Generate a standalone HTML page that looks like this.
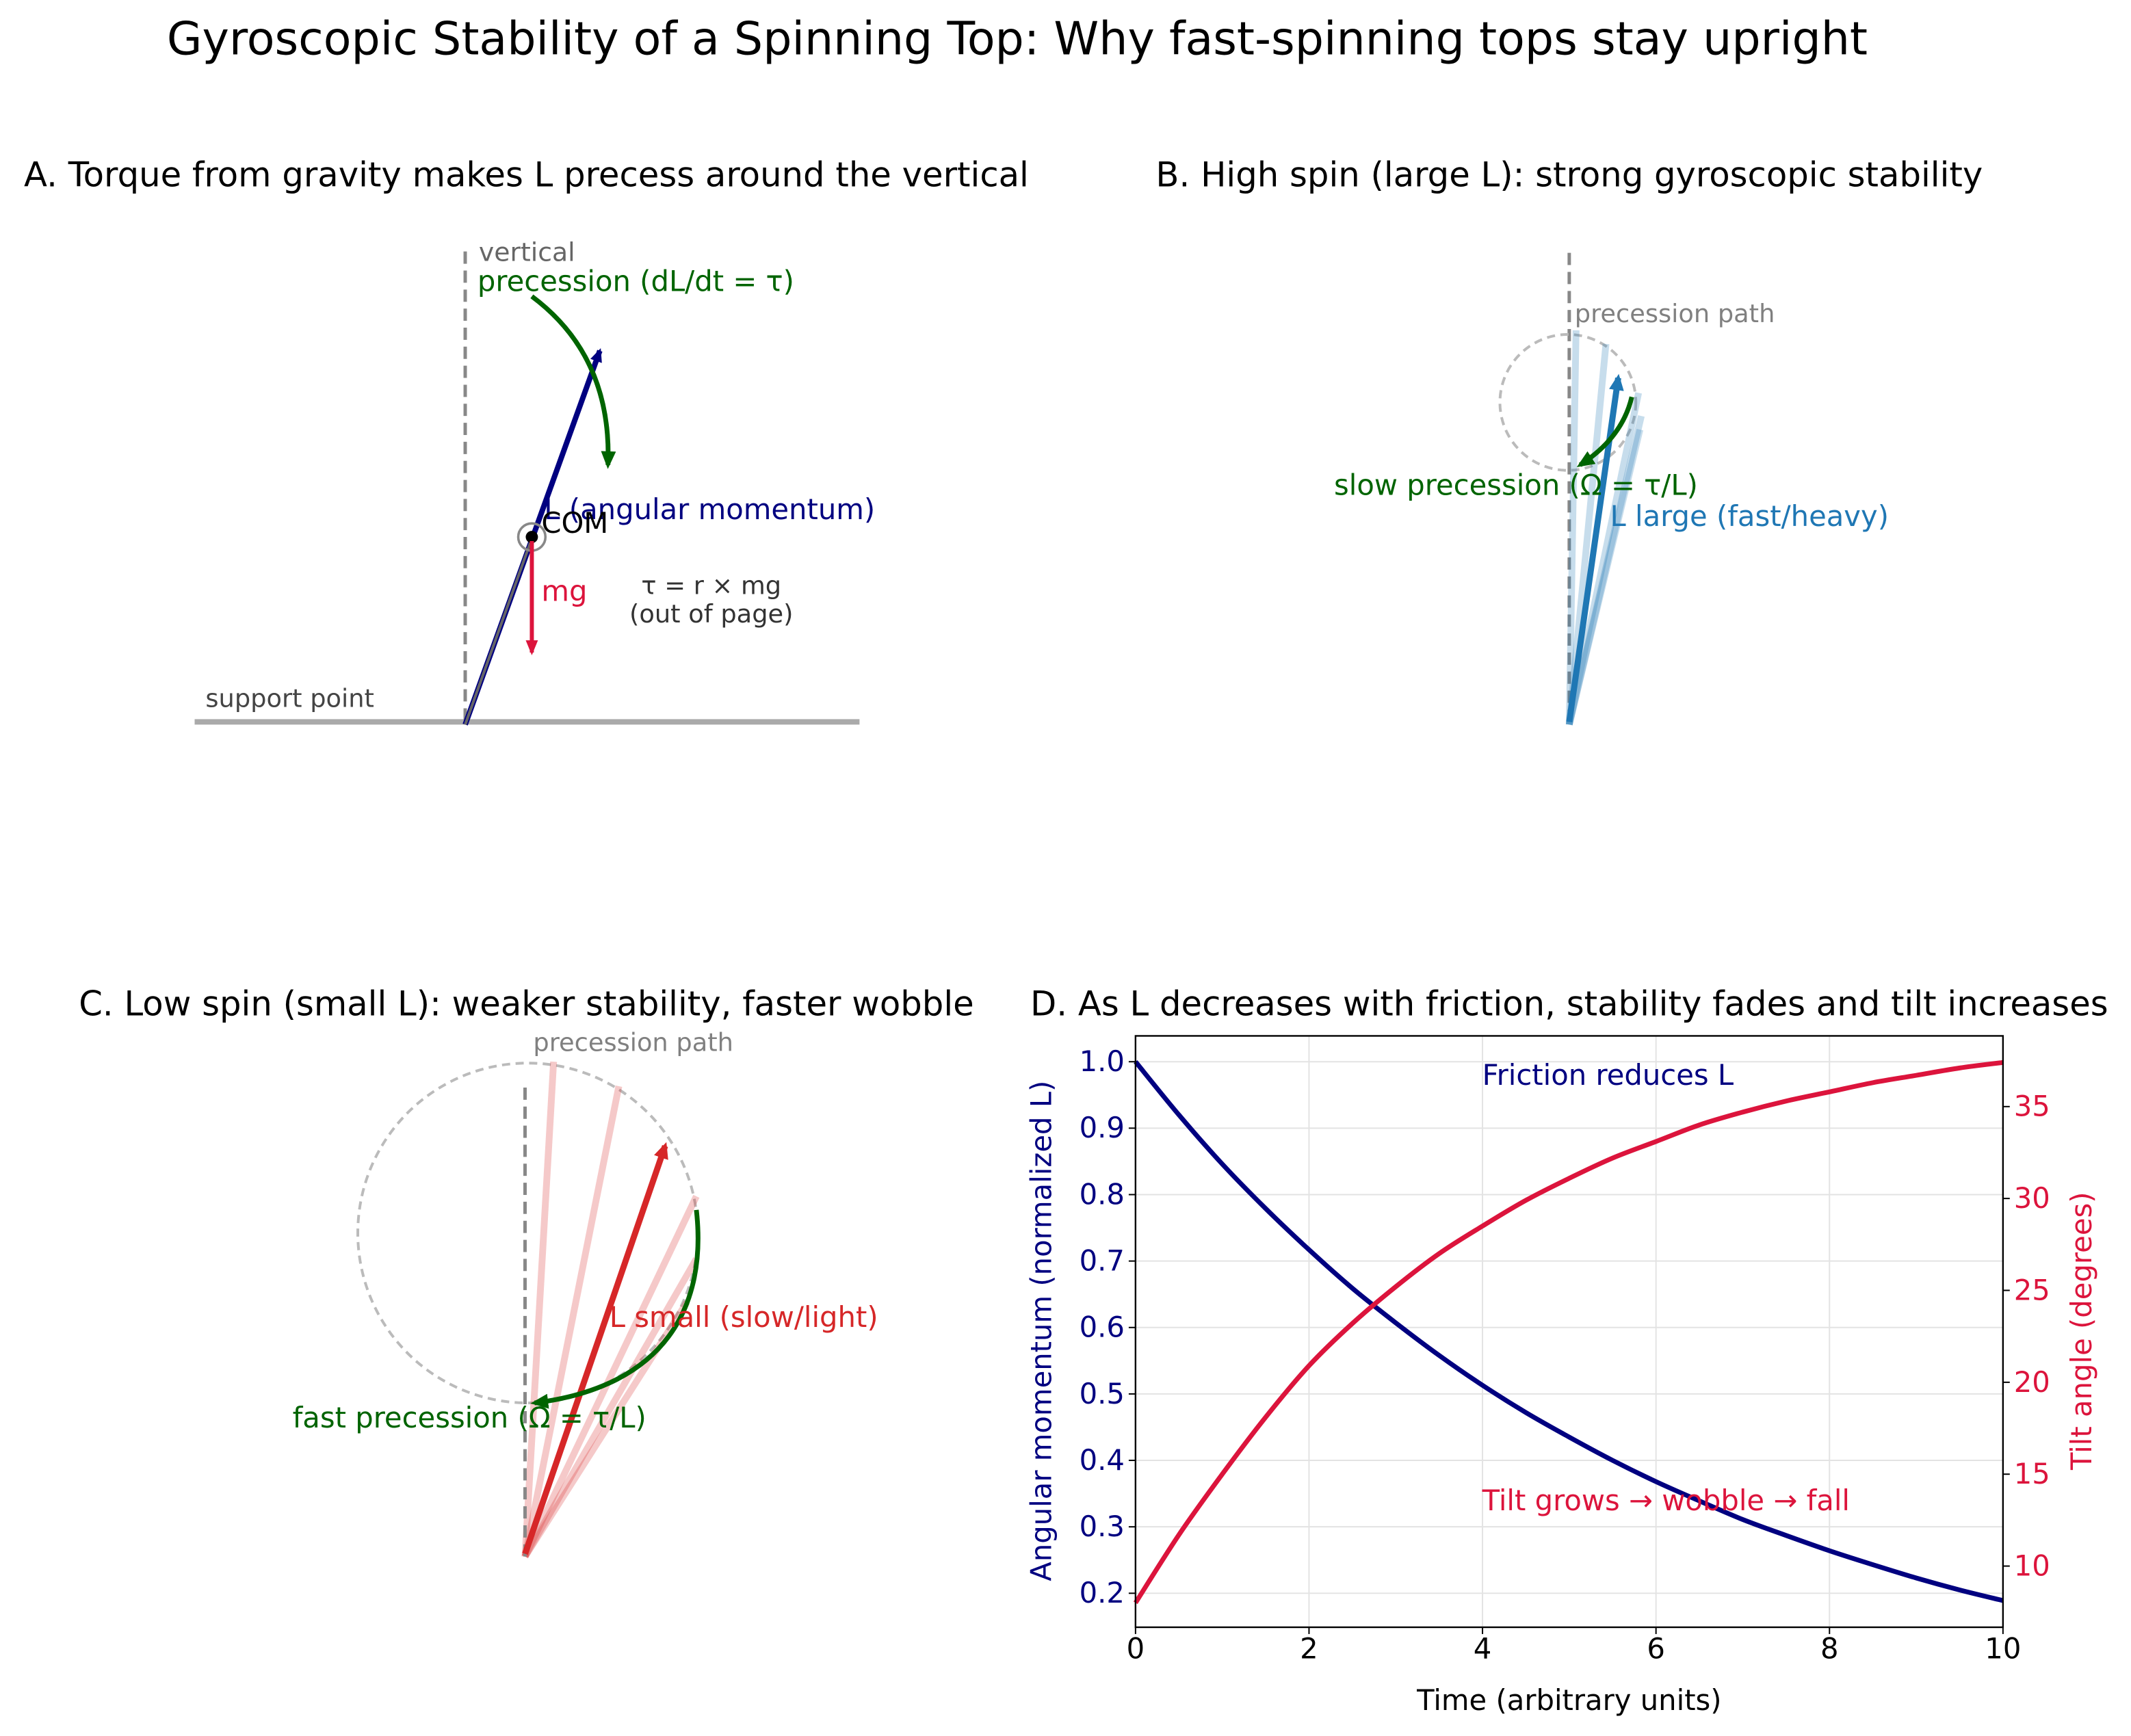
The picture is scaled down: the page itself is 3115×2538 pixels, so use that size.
<!DOCTYPE html>
<html><head><meta charset="utf-8">
<style>
html,body{margin:0;padding:0;background:#fff;}
svg{display:block;font-family:"DejaVu Sans","Liberation Sans",sans-serif;}
</style></head>
<body>
<svg id="fig" width="3115" height="2538" viewBox="0 0 1567 1277" xmlns="http://www.w3.org/2000/svg">
<defs>
<marker id="ahNavy" markerWidth="10" markerHeight="9" refX="8" refY="4.5" orient="auto" markerUnits="userSpaceOnUse"><path d="M0,0 L10,4.5 L0,9 z" fill="#000080"/></marker>
<marker id="ahRed" markerWidth="11" markerHeight="9" refX="9" refY="4.5" orient="auto" markerUnits="userSpaceOnUse"><path d="M0,0 L11,4.5 L0,9 z" fill="#dc143c"/></marker>
<marker id="ahGreen" markerWidth="13" markerHeight="11" refX="10" refY="5.5" orient="auto" markerUnits="userSpaceOnUse"><path d="M0,0 L13,5.5 L0,11 z" fill="#006400"/></marker>
<marker id="ahBlue" markerWidth="12" markerHeight="11" refX="9" refY="5.5" orient="auto" markerUnits="userSpaceOnUse"><path d="M0,0 L12,5.5 L0,11 z" fill="#1f77b4"/></marker>
<marker id="ahR2" markerWidth="12" markerHeight="11" refX="9" refY="5.5" orient="auto" markerUnits="userSpaceOnUse"><path d="M0,0 L12,5.5 L0,11 z" fill="#d62728"/></marker>
</defs>
<rect width="1567" height="1277" fill="#fff"/>
<text x="748" y="40" font-size="33.5" text-anchor="middle" fill="#000">Gyroscopic Stability of a Spinning Top: Why fast-spinning tops stay upright</text>

<!-- Panel A -->
<g>
<text x="387" y="137" font-size="25" text-anchor="middle">A. Torque from gravity makes L precess around the vertical</text>
<line x1="143" y1="531" x2="632" y2="531" stroke="#aaaaaa" stroke-width="4"/>
<line x1="342" y1="185" x2="342" y2="531" stroke="#888" stroke-width="2.5" stroke-dasharray="9,5"/>
<line x1="342" y1="533" x2="441" y2="258" stroke="#000080" stroke-width="4" marker-end="url(#ahNavy)"/>
<line x1="342" y1="533" x2="391" y2="396" stroke="#666" stroke-width="2"/>
<circle cx="391" cy="395" r="10" fill="none" stroke="#888" stroke-width="1.8"/>
<circle cx="391" cy="395" r="4.5" fill="#000"/>
<line x1="391" y1="398" x2="391" y2="480" stroke="#dc143c" stroke-width="3" marker-end="url(#ahRed)"/>
<path d="M391,218 Q450,262 447,342" fill="none" stroke="#006400" stroke-width="3.5" marker-end="url(#ahGreen)"/>
<text x="352" y="192" font-size="19" fill="#666">vertical</text>
<text x="351" y="214" font-size="21" fill="#006400">precession (dL/dt = τ)</text>
<text x="400" y="382" font-size="21" fill="#000080">L (angular momentum)</text>
<text x="398" y="392" font-size="21" fill="#000">COM</text>
<text x="398" y="442" font-size="21" fill="#dc143c">mg</text>
<text x="523" y="437" font-size="18.5" fill="#333" text-anchor="middle">τ = r × mg</text>
<text x="523" y="458" font-size="18.5" fill="#333" text-anchor="middle">(out of page)</text>
<text x="151" y="520" font-size="18.5" fill="#444">support point</text>
</g>

<!-- Panel B -->
<g>
<text x="1154" y="137" font-size="25" text-anchor="middle">B. High spin (large L): strong gyroscopic stability</text>
<line x1="1154" y1="186" x2="1154" y2="532" stroke="#888" stroke-width="2.5" stroke-dasharray="9,5"/>
<circle cx="1153" cy="296" r="50" fill="none" stroke="#bbb" stroke-width="2" stroke-dasharray="6,4"/>
<g stroke="#1f77b4" stroke-opacity="0.25" stroke-width="5">
<line x1="1154" y1="533" x2="1159" y2="243"/>
<line x1="1154" y1="533" x2="1181" y2="253"/>
<line x1="1154" y1="533" x2="1205" y2="289"/>
<line x1="1154" y1="533" x2="1207" y2="306"/>
<line x1="1154" y1="533" x2="1206" y2="316"/>
</g>
<line x1="1154" y1="531" x2="1190" y2="278" stroke="#1f77b4" stroke-width="4.5" marker-end="url(#ahBlue)"/>
<path d="M1200,292 Q1193,322 1162,342" fill="none" stroke="#006400" stroke-width="3.5" marker-end="url(#ahGreen)"/>
<text x="1158" y="237" font-size="18.5" fill="#808080">precession path</text>
<text x="981" y="364" font-size="21" fill="#006400">slow precession (Ω = τ/L)</text>
<text x="1184" y="387" font-size="21" fill="#1f77b4">L large (fast/heavy)</text>
</g>

<!-- Panel C -->
<g>
<text x="387" y="747" font-size="25" text-anchor="middle">C. Low spin (small L): weaker stability, faster wobble</text>
<circle cx="388" cy="907" r="125" fill="none" stroke="#bbb" stroke-width="2" stroke-dasharray="6,4"/>
<g stroke="#d62728" stroke-opacity="0.25" stroke-width="5">
<line x1="386" y1="1145" x2="407" y2="781"/>
<line x1="386" y1="1145" x2="455" y2="799"/>
<line x1="386" y1="1145" x2="512" y2="880"/>
<line x1="386" y1="1145" x2="512" y2="926"/>
<line x1="386" y1="1145" x2="505" y2="958"/>
</g>
<line x1="386" y1="800" x2="386" y2="1145" stroke="#888" stroke-width="2.5" stroke-dasharray="9,5"/>
<line x1="386" y1="1143" x2="489" y2="843" stroke="#d62728" stroke-width="4.5" marker-end="url(#ahR2)"/>
<path d="M512,890 C520,960 490,1020 393,1032" fill="none" stroke="#006400" stroke-width="3.5" marker-end="url(#ahGreen)"/>
<text x="392" y="773" font-size="18.5" fill="#808080">precession path</text>
<text x="448" y="976" font-size="21" fill="#d62728">L small (slow/light)</text>
<text x="215" y="1050" font-size="21" fill="#006400">fast precession (Ω = τ/L)</text>
</g>

<!-- Panel D -->
<g id="panelD">
<text x="1154" y="747" font-size="25" text-anchor="middle">D. As L decreases with friction, stability fades and tilt increases</text>
</g>
</svg>
<script>
const times = [0,0.5,1,1.5,2,2.5,3,3.5,4,4.5,5,5.5,6,6.5,7,7.5,8,8.5,9,9.5,10];
const angularMomentum = [1,0.920,0.846,0.779,0.717,0.659,0.607,0.558,0.513,0.472,0.435,0.400,0.368,0.339,0.311,0.287,0.264,0.243,0.223,0.205,0.189];
const tiltAngle = [8,11.7,15.0,18.1,20.9,23.2,25.2,27.0,28.5,29.9,31.1,32.2,33.1,34.0,34.7,35.3,35.8,36.3,36.7,37.1,37.4];
const xTicks = [0,2,4,6,8,10];
const leftTicks = [0.2,0.3,0.4,0.5,0.6,0.7,0.8,0.9,1.0];
const rightTicks = [10,15,20,25,30,35];

const NS = "http://www.w3.org/2000/svg";
const g = document.getElementById('panelD');
const L = 835, R = 1473, T = 762, B = 1197;
const xS = v => L + (v - 0) / 10 * (R - L);
const yL = v => 1172 - (v - 0.2) / 0.8 * (1172 - 781);
const yR = v => 1152 - (v - 10) / 25 * (1152 - 814);
function mk(tag, attrs, parent) {
  const e = document.createElementNS(NS, tag);
  for (const k in attrs) e.setAttribute(k, attrs[k]);
  (parent || g).appendChild(e);
  return e;
}
xTicks.forEach(t => {
  const e = mk('line', {x1: xS(t), x2: xS(t), y1: T, y2: B, stroke: '#e3e3e3', 'stroke-width': 1});
  
  
});
leftTicks.forEach(t => {
  const e = mk('line', {x1: L, x2: R, y1: yL(t), y2: yL(t), stroke: '#e3e3e3', 'stroke-width': 1});
  
  
});
function path(vals, ys) {
  const p = vals.map((v, i) => [xS(times[i]), ys(v)]);
  let d = 'M' + p[0][0].toFixed(2) + ',' + p[0][1].toFixed(2);
  for (let i = 0; i < p.length - 1; i++) {
    const p0 = p[Math.max(0, i - 1)], p1 = p[i], p2 = p[i + 1], p3 = p[Math.min(p.length - 1, i + 2)];
    const c1 = [p1[0] + (p2[0] - p0[0]) / 6, p1[1] + (p2[1] - p0[1]) / 6];
    const c2 = [p2[0] - (p3[0] - p1[0]) / 6, p2[1] - (p3[1] - p1[1]) / 6];
    d += ' C' + c1[0].toFixed(2) + ',' + c1[1].toFixed(2) + ' ' + c2[0].toFixed(2) + ',' + c2[1].toFixed(2) + ' ' + p2[0].toFixed(2) + ',' + p2[1].toFixed(2);
  }
  return d;
}
const lLine = mk('path', {d: path(angularMomentum, yL), fill: 'none', stroke: '#000080', 'stroke-width': 3.5, 'stroke-linejoin': 'round'});


const tLine = mk('path', {d: path(tiltAngle, yR), fill: 'none', stroke: '#dc143c', 'stroke-width': 3.5, 'stroke-linejoin': 'round'});


const fr = mk('rect', {x: L, y: T, width: R - L, height: B - T, fill: 'none', stroke: '#000', 'stroke-width': 1.2});


xTicks.forEach(t => {
  const tk = mk('line', {x1: xS(t), x2: xS(t), y1: B, y2: B + 5, stroke: '#000', 'stroke-width': 1});
  
  
  const tx = mk('text', {x: xS(t), y: B + 23, 'font-size': 21, 'text-anchor': 'middle', fill: '#000'});
  tx.textContent = String(t);
  
  
});
leftTicks.forEach(t => {
  const tk = mk('line', {x1: L - 5, x2: L, y1: yL(t), y2: yL(t), stroke: '#000', 'stroke-width': 1});
  
  
  const tx = mk('text', {x: L - 8, y: yL(t) + 7, 'font-size': 21, 'text-anchor': 'end', fill: '#000080'});
  tx.textContent = t.toFixed(1);
  
  
});
rightTicks.forEach(t => {
  const tk = mk('line', {x1: R, x2: R + 5, y1: yR(t), y2: yR(t), stroke: '#000', 'stroke-width': 1});
  
  
  const tx = mk('text', {x: R + 8, y: yR(t) + 7, 'font-size': 21, 'text-anchor': 'start', fill: '#dc143c'});
  tx.textContent = String(t);
  
  
});
const xl = mk('text', {x: 1154, y: 1258, 'font-size': 21, 'text-anchor': 'middle', fill: '#000'});
xl.textContent = 'Time (arbitrary units)';


const yl = mk('text', {x: 0, y: 0, 'font-size': 21, 'text-anchor': 'middle', fill: '#000080', transform: 'translate(773,979) rotate(-90)'});
yl.textContent = 'Angular momentum (normalized L)';


const yr = mk('text', {x: 0, y: 0, 'font-size': 21, 'text-anchor': 'middle', fill: '#dc143c', transform: 'translate(1538,979) rotate(-90)'});
yr.textContent = 'Tilt angle (degrees)';


const a1 = mk('text', {x: 1090, y: 798, 'font-size': 21, fill: '#000080'});
a1.textContent = 'Friction reduces L';


const a2 = mk('text', {x: 1090, y: 1111, 'font-size': 21, fill: '#dc143c'});
a2.textContent = 'Tilt grows → wobble → fall';


</script>
</body></html>
